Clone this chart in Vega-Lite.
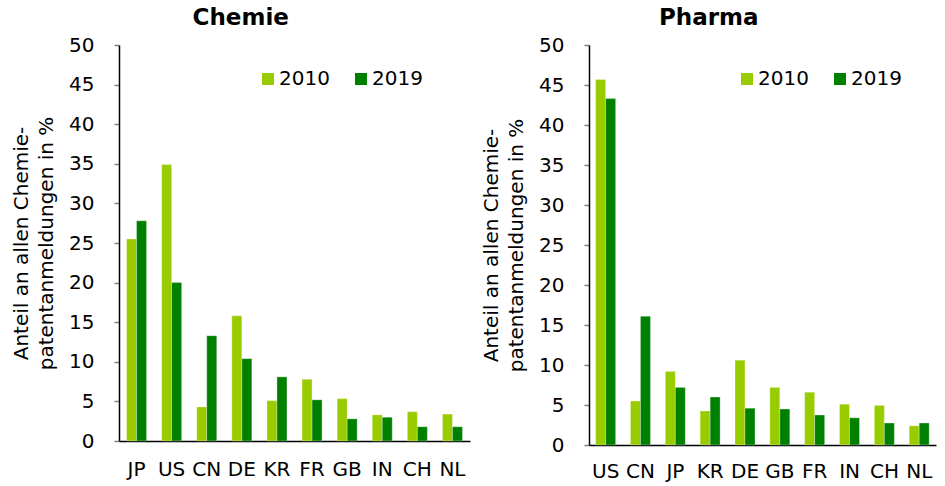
{
  "$schema": "https://vega.github.io/schema/vega-lite/v6.json",
  "background": "white",
  "padding": {"left": 11, "top": 7, "right": 5, "bottom": 5},
  "config": {
    "font": "DejaVu Sans",
    "view": {"stroke": null},
    "title": {"fontSize": 23, "fontWeight": "bold", "color": "#000000", "anchor": "middle", "frame": "bounds", "offset": 5},
    "axis": {"labelFont": "DejaVu Sans", "titleFont": "DejaVu Sans", "labelFontSize": 20, "titleFontSize": 20, "labelColor": "#000000", "titleColor": "#000000", "titleFontWeight": "normal", "grid": false, "domainColor": "#000000", "domainWidth": 1.5}
  },
  "datasets": {
    "chemie": [
      {"country": "JP", "year": "2010", "value": 25.5},
      {"country": "JP", "year": "2019", "value": 27.8},
      {"country": "US", "year": "2010", "value": 34.9},
      {"country": "US", "year": "2019", "value": 20.0},
      {"country": "CN", "year": "2010", "value": 4.3},
      {"country": "CN", "year": "2019", "value": 13.3},
      {"country": "DE", "year": "2010", "value": 15.8},
      {"country": "DE", "year": "2019", "value": 10.4},
      {"country": "KR", "year": "2010", "value": 5.1},
      {"country": "KR", "year": "2019", "value": 8.1},
      {"country": "FR", "year": "2010", "value": 7.8},
      {"country": "FR", "year": "2019", "value": 5.2},
      {"country": "GB", "year": "2010", "value": 5.35},
      {"country": "GB", "year": "2019", "value": 2.8},
      {"country": "IN", "year": "2010", "value": 3.3},
      {"country": "IN", "year": "2019", "value": 3.0},
      {"country": "CH", "year": "2010", "value": 3.7},
      {"country": "CH", "year": "2019", "value": 1.8},
      {"country": "NL", "year": "2010", "value": 3.4},
      {"country": "NL", "year": "2019", "value": 1.8}
    ],
    "pharma": [
      {"country": "US", "year": "2010", "value": 45.7},
      {"country": "US", "year": "2019", "value": 43.3},
      {"country": "CN", "year": "2010", "value": 5.5},
      {"country": "CN", "year": "2019", "value": 16.1},
      {"country": "JP", "year": "2010", "value": 9.2},
      {"country": "JP", "year": "2019", "value": 7.2},
      {"country": "KR", "year": "2010", "value": 4.25},
      {"country": "KR", "year": "2019", "value": 6.0},
      {"country": "DE", "year": "2010", "value": 10.6},
      {"country": "DE", "year": "2019", "value": 4.6},
      {"country": "GB", "year": "2010", "value": 7.2},
      {"country": "GB", "year": "2019", "value": 4.5},
      {"country": "FR", "year": "2010", "value": 6.6},
      {"country": "FR", "year": "2019", "value": 3.75},
      {"country": "IN", "year": "2010", "value": 5.1},
      {"country": "IN", "year": "2019", "value": 3.4},
      {"country": "CH", "year": "2010", "value": 4.95},
      {"country": "CH", "year": "2019", "value": 2.75},
      {"country": "NL", "year": "2010", "value": 2.4},
      {"country": "NL", "year": "2019", "value": 2.75}
    ]
  },
  "resolve": {"scale": {"color": "independent"}, "legend": {"color": "independent"}},
  "spacing": 11,
  "hconcat": [
    {
      "title": "Chemie",
      "width": 351,
      "height": 396,
      "data": {"name": "chemie"},
      "mark": {"type": "bar", "stroke": "#ffffff", "strokeWidth": 0.5, "strokeOpacity": 0.6},
      "encoding": {
        "x": {"field": "country", "type": "nominal", "sort": ["JP", "US", "CN", "DE", "KR", "FR", "GB", "IN", "CH", "NL"], "scale": {"paddingInner": 0.43, "paddingOuter": 0.215}, "axis": {"title": null, "labelAngle": 0, "ticks": false, "labelPadding": 18}},
        "xOffset": {"field": "year", "type": "nominal", "scale": {"paddingInner": 0, "paddingOuter": 0}},
        "y": {"field": "value", "type": "quantitative", "scale": {"domain": [0, 50], "nice": false}, "axis": {"values": [0, 5, 10, 15, 20, 25, 30, 35, 40, 45, 50], "title": ["Anteil an allen Chemie-", "patentanmeldungen in %"], "titleLineHeight": 25, "tickColor": "#808080", "tickSize": 5, "tickWidth": 1.5, "labelPadding": 20, "titlePadding": 12}},
        "color": {"field": "year", "type": "nominal", "scale": {"domain": ["2010", "2019"], "range": ["#99cc00", "#008000"]}, "legend": {"title": null, "orient": "none", "legendX": 139, "legendY": 24, "direction": "horizontal", "symbolType": "square", "symbolSize": 144, "symbolStrokeWidth": 0, "labelFontSize": 20, "labelFont": "DejaVu Sans", "labelColor": "#000000", "labelOffset": 1, "columnPadding": 21}}
      }
    },
    {
      "title": "Pharma",
      "width": 347,
      "height": 400,
      "data": {"name": "pharma"},
      "mark": {"type": "bar", "stroke": "#ffffff", "strokeWidth": 0.5, "strokeOpacity": 0.6},
      "encoding": {
        "x": {"field": "country", "type": "nominal", "sort": ["US", "CN", "JP", "KR", "DE", "GB", "FR", "IN", "CH", "NL"], "scale": {"paddingInner": 0.42, "paddingOuter": 0.19}, "axis": {"title": null, "labelAngle": 0, "ticks": false, "labelPadding": 16}},
        "xOffset": {"field": "year", "type": "nominal", "scale": {"paddingInner": 0, "paddingOuter": 0}},
        "y": {"field": "value", "type": "quantitative", "scale": {"domain": [0, 50], "nice": false}, "axis": {"values": [0, 5, 10, 15, 20, 25, 30, 35, 40, 45, 50], "title": ["Anteil an allen Chemie-", "patentanmeldungen in %"], "titleLineHeight": 25, "tickColor": "#808080", "tickSize": 5, "tickWidth": 1.5, "labelPadding": 20, "titlePadding": 12}},
        "color": {"field": "year", "type": "nominal", "scale": {"domain": ["2010", "2019"], "range": ["#99cc00", "#008000"]}, "legend": {"title": null, "orient": "none", "legendX": 148, "legendY": 24, "direction": "horizontal", "symbolType": "square", "symbolSize": 144, "symbolStrokeWidth": 0, "labelFontSize": 20, "labelFont": "DejaVu Sans", "labelColor": "#000000", "labelOffset": 1, "columnPadding": 21}}
      }
    }
  ]
}
